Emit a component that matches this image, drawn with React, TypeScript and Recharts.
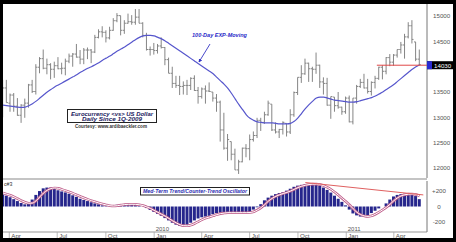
import React from 'react';
import { ComposedChart, Bar, Line, XAxis, YAxis, ReferenceLine } from 'recharts';

// Weekly EUR/USD (x10000), week 0 = week ending 20 Mar 2009
const weekHigh = [
  13740, 13740, 13470, 13480, 13380, 13260, 13370, 13660, 13740, 14050,
  14190, 14340, 14160, 14070, 14100, 14190, 14080, 14160, 14260, 14270,
  14450, 14330, 14370, 14380, 14350, 14630, 14740, 14800, 14720, 14790,
  14960, 15060, 15010, 14920, 15050, 15020, 15140, 15140, 14880, 14670,
  14400, 14470, 14450, 14580, 14390, 14180, 14000, 13820, 13820, 13710,
  13740, 13790, 13830, 13600, 13590, 13630, 13690, 13500, 13460, 13330,
  13090, 12670, 12520, 12380, 12160, 12400, 12470, 12660, 12720, 12990,
  12990, 13110, 13330, 13260, 12900, 12770, 12920, 12880, 13160, 13510,
  13790, 14030, 14160, 14080, 14000, 14280, 14040, 13790, 13780, 13410,
  13400, 13500, 13210, 13410, 13430, 13380, 13640, 13760, 13860, 13760,
  13710, 13820, 14000, 14030, 14190, 14250, 14250, 14340, 14490, 14650,
  14880, 14920, 14490, 14340,
];
const weekLow = [
  13000, 13290, 13110, 13110, 13030, 12890, 12990, 13190, 13480, 13450,
  13870, 13950, 13850, 13750, 13780, 13950, 13850, 13830, 14070, 14000,
  14180, 14050, 14050, 14150, 14070, 14270, 14560, 14580, 14480, 14540,
  14710, 14880, 14620, 14650, 14850, 14830, 14830, 14860, 14580, 14320,
  14220, 14240, 14260, 14360, 14030, 13870, 13580, 13580, 13440, 13450,
  13440, 13540, 13520, 13270, 13370, 13270, 13500, 13310, 13110, 12520,
  12360, 12140, 12150, 11960, 11880, 12110, 12210, 12150, 12520, 12590,
  12730, 12870, 13030, 12730, 12680, 12590, 12660, 12620, 12670, 13010,
  13440, 13680, 13840, 13700, 13700, 13860, 13580, 13450, 13230, 12970,
  13110, 13170, 13050, 13070, 12900, 12860, 13270, 13580, 13570, 13470,
  13430, 13570, 13740, 13750, 13850, 14010, 14020, 14180, 14260, 14160,
  14560, 14460, 14110, 14030,
];
const weekClose = [
  13580, 13280, 13440, 13220, 13040, 13240, 13280, 13640, 13510, 13990,
  14160, 13970, 14040, 13950, 14020, 13960, 13970, 14110, 14210, 14250,
  14190, 14150, 14330, 14330, 14290, 14580, 14690, 14680, 14570, 14720,
  14910, 15010, 14720, 14860, 14890, 14880, 14980, 14860, 14620, 14340,
  14340, 14320, 14410, 14380, 14140, 13870, 13670, 13630, 13610, 13630,
  13630, 13770, 13530, 13410, 13560, 13520, 13510, 13380, 13300, 12750,
  12390, 12560, 12270, 11960, 12120, 12390, 12380, 12560, 12640, 12940,
  12900, 13050, 13280, 12750, 12710, 12760, 12900, 12710, 13050, 13490,
  13790, 13860, 14070, 13960, 13950, 14030, 13700, 13670, 13240, 13410,
  13230, 13200, 13110, 13380, 12910, 13380, 13610, 13690, 13580, 13510,
  13690, 13770, 13990, 13910, 14180, 14090, 14230, 14340, 14430, 14590,
  14810, 14540, 14150, 14040,
];
const firstOpen = 13050;

const ema100 = [
  13240, 13230, 13220, 13210, 13200, 13195, 13200, 13230, 13270, 13320,
  13380, 13440, 13500, 13550, 13600, 13640, 13680, 13720, 13760, 13800,
  13840, 13890, 13930, 13970, 14000, 14040, 14080, 14130, 14170, 14210,
  14260, 14310, 14350, 14390, 14440, 14490, 14540, 14580, 14610, 14620,
  14620, 14610, 14580, 14550, 14510, 14460, 14410, 14360, 14310, 14260,
  14210, 14160, 14110, 14060, 14010, 13960, 13910, 13860, 13790, 13720,
  13650, 13570, 13470, 13360, 13250, 13150, 13050, 12980, 12940, 12910,
  12900, 12890, 12890, 12890, 12880, 12870, 12870, 12870, 12880, 12920,
  12990, 13080, 13170, 13250, 13320, 13380, 13400, 13400, 13380, 13360,
  13340, 13330, 13320, 13310, 13300, 13300, 13310, 13330, 13350, 13370,
  13390, 13420, 13460, 13500, 13550, 13600, 13650, 13710, 13770, 13830,
  13890, 13950, 14000, 14040,
];

const oscHist = [
  155, 140, 120, 95, 70, 45, 28, 40, 90, 150,
  200, 235, 245, 245, 230, 210, 195, 182, 165, 145,
  125, 100, 85, 70, 55, 40, 28, 15, 5, 0,
  10, 22, 28, 30, 30, 28, 25, 15, 0, -20,
  -45, -70, -95, -120, -150, -180, -210, -235, -250, -250,
  -235, -210, -180, -155, -140, -130, -120, -100, -85, -80,
  -78, -78, -80, -80, -80, -80, -78, -70, -40, -10,
  30, 80, 115, 140, 160, 175, 185, 205, 230, 255,
  270, 280, 288, 292, 290, 285, 270, 245, 215, 180,
  140, 100, 60, 15, -40, -90, -115, -130, -130, -115,
  -85, -55, -25, 0, 40, 90, 130, 150, 160, 165,
  165, 160, 135, 95,
];
const oscSignal = [
  175, 160, 145, 125, 100, 75, 55, 42, 45, 75,
  125, 175, 210, 232, 240, 235, 220, 205, 188, 170,
  150, 130, 110, 92, 75, 60, 45, 32, 20, 10,
  6, 10, 18, 25, 28, 29, 28, 22, 12, -5,
  -25, -50, -75, -100, -125, -155, -185, -212, -235, -248,
  -250, -240, -220, -195, -170, -150, -135, -120, -105, -92,
  -85, -80, -80, -80, -80, -80, -80, -78, -68, -45,
  -15, 25, 70, 105, 132, 152, 168, 182, 200, 222,
  245, 262, 275, 284, 289, 290, 284, 270, 248, 220,
  185, 145, 105, 65, 20, -30, -75, -105, -122, -128,
  -120, -100, -72, -42, -10, 30, 75, 112, 138, 152,
  160, 162, 155, 135,
];

const monthTickWeeks = [1.7, 14.7, 27.9, 41.0, 53.9, 66.9, 80.0, 93.1, 106.0];
const monthTickLabels = ['Apr', 'Jul', 'Oct', 'Jan', 'Apr', 'Jul', 'Oct', 'Jan', 'Apr'];
const yearTickLabels = ['', '', '', '2010', '', '', '', '2011', ''];
const priceTicks = [12000, 12500, 13000, 13500, 14030, 14500, 15000];
const lastPrice = 14030;
const oscTicks = [-200, 0, 200];
const oscTickLabels = ['-200', '0', '+200'];
const supportLevel = 14030;
const supportStartWeek = 101.4;
const trendStartWeek = 82;
const trendStartValue = 310;
const trendEndWeek = 114;
const trendEndValue = 150;

const WEEK_DOMAIN: [number, number] = [0, 115];
const FONT = '"Liberation Sans", Arial, sans-serif';

const rows = weekHigh.map((h, i) => ({
  w: i,
  high: h,
  low: weekLow[i],
  close: weekClose[i],
  open: i === 0 ? firstOpen : weekClose[i - 1],
  range: [weekLow[i], h],
  ema: ema100[i],
  osc: oscHist[i],
  sig: oscSignal[i],
}));

const OhlcBar = (props: any) => {
  const { x, y, width, height, payload } = props;
  if (x == null || y == null || !payload) return null;
  const top = Math.min(y, y + height);
  const h = Math.abs(height);
  const cx = x + width / 2;
  const span = payload.high - payload.low || 1;
  const clamp = (v: number) => Math.max(payload.low, Math.min(payload.high, v));
  const yOf = (v: number) => top + ((payload.high - clamp(v)) / span) * h;
  return (
    <g stroke="#858585" strokeWidth={1}>
      <line x1={cx} x2={cx} y1={top} y2={top + h} />
      <line x1={cx - 1.6} x2={cx} y1={yOf(payload.open)} y2={yOf(payload.open)} />
      <line x1={cx} x2={cx + 1.6} y1={yOf(payload.close)} y2={yOf(payload.close)} />
    </g>
  );
};

const PriceTick = (props: any) => {
  const { x, y, payload } = props;
  const v = payload.value;
  if (v === lastPrice) {
    return (
      <g>
        <rect x={x} y={y - 4} width={26} height={8} fill="#000" />
        <rect x={x} y={y - 4} width={5} height={8} fill="#2a2ad0" />
        <text x={x + 7} y={y + 2.3} fontSize={6.2} fill="#fff" fontFamily={FONT}>
          {v}
        </text>
      </g>
    );
  }
  return (
    <text x={x + 6} y={y + 2.2} fontSize={6.2} fill="#555" fontFamily={FONT}>
      {v}
    </text>
  );
};

const OscTick = (props: any) => {
  const { x, y, payload } = props;
  const idx = oscTicks.indexOf(payload.value);
  return (
    <text x={x + 12} y={y + 2.2} fontSize={6.2} fill="#555" fontFamily={FONT} textAnchor="middle">
      {oscTickLabels[idx]}
    </text>
  );
};

const DateTick = (props: any) => {
  const { x, y, payload } = props;
  const idx = monthTickWeeks.indexOf(payload.value);
  return (
    <g>
      <line x1={x} x2={x} y1={y} y2={y + 6} stroke="#aaa" strokeWidth={0.8} />
      <text x={x + 2} y={y + 5.6} fontSize={6.2} fill="#555" fontFamily={FONT}>
        {monthTickLabels[idx]}
      </text>
      {yearTickLabels[idx] ? (
        <text x={x + 1.5} y={y - 1.2} fontSize={6} fill="#555" fontFamily={FONT}>
          {yearTickLabels[idx]}
        </text>
      ) : null}
    </g>
  );
};

export default function App() {
  return (
    <div style={{ position: 'absolute', left: 0, top: 0, width: 456, height: 242, background: '#000', overflow: 'hidden' }}>
      <div style={{ position: 'absolute', left: 3, top: 4, width: 450, height: 234, background: '#fff' }} />
      <div style={{ position: 'absolute', left: 3, top: 4 }}>
        <ComposedChart width={450} height={174} data={rows} margin={{ top: 0, right: 0, bottom: 0, left: 0 }}>
          <XAxis type="number" dataKey="w" domain={WEEK_DOMAIN} hide allowDataOverflow />
          <YAxis
            orientation="right"
            width={26}
            domain={[11800, 15240]}
            allowDataOverflow
            ticks={priceTicks}
            interval={0}
            tick={<PriceTick />}
            tickLine={false}
            tickSize={0}
            tickMargin={0}
            axisLine={{ stroke: '#777' }}
          />
          <Bar dataKey="range" barSize={1} shape={OhlcBar} isAnimationActive={false} />
          <Line dataKey="ema" type="monotone" stroke="#5656cc" strokeWidth={1.2} dot={false} isAnimationActive={false} />
          <ReferenceLine
            segment={[{ x: supportStartWeek, y: supportLevel }, { x: WEEK_DOMAIN[1], y: supportLevel }]}
            stroke="#e04848"
            strokeWidth={1}
          />
        </ComposedChart>
      </div>
      <div style={{ position: 'absolute', left: 3, top: 178, width: 424, height: 2, background: '#c4c4c4' }} />
      <div style={{ position: 'absolute', left: 3, top: 180 }}>
        <ComposedChart width={450} height={58} data={rows} margin={{ top: 1, right: 0, bottom: 0, left: 0 }}>
          <XAxis
            type="number"
            dataKey="w"
            domain={WEEK_DOMAIN}
            allowDataOverflow
            ticks={monthTickWeeks}
            interval={0}
            tick={<DateTick />}
            tickLine={false}
            tickSize={0}
            tickMargin={0}
            height={6}
            axisLine={{ stroke: '#999' }}
          />
          <YAxis
            orientation="right"
            width={26}
            domain={[-330, 330]}
            allowDataOverflow
            ticks={oscTicks}
            interval={0}
            tick={<OscTick />}
            tickLine={false}
            tickSize={0}
            tickMargin={0}
            axisLine={{ stroke: '#777' }}
          />
          <Bar dataKey="osc" fill="#26268c" barSize={3} isAnimationActive={false} />
          <Line dataKey="sig" type="monotone" stroke="#c0608c" strokeWidth={2.6} dot={false} isAnimationActive={false} />
          <Line dataKey="sig" type="monotone" stroke="#ffffff" strokeWidth={1} dot={false} isAnimationActive={false} />
          <ReferenceLine
            segment={[{ x: trendStartWeek, y: trendStartValue }, { x: trendEndWeek, y: trendEndValue }]}
            stroke="#e06060"
            strokeWidth={1}
          />
        </ComposedChart>
      </div>
      <svg width={456} height={242} style={{ position: 'absolute', left: 0, top: 0, pointerEvents: 'none' }}>
        <defs>
          <marker id="arr" viewBox="0 0 6 6" refX="5" refY="3" markerWidth="4" markerHeight="4" orient="auto">
            <path d="M0,0 L6,3 L0,6 z" fill="#3434c4" />
          </marker>
        </defs>
        <text x={192} y={37} fontSize={5.6} fontWeight="bold" fontStyle="italic" fill="#2a2ac8" fontFamily={FONT} textLength={55} lengthAdjust="spacingAndGlyphs">
          100-Day EXP-Moving
        </text>
        <line x1={210} y1={44} x2={199} y2={62} stroke="#3434c4" strokeWidth={0.9} markerEnd="url(#arr)" />
        <rect x={67.5} y={109.5} width={89} height={13} fill="#fff" stroke="#222" strokeWidth={1} />
        <text x={112} y={116} fontSize={5.6} fontWeight="bold" fontStyle="italic" fill="#1a1a60" fontFamily={FONT} textAnchor="middle" textLength={82} lengthAdjust="spacingAndGlyphs">
          Eurocurrency &lt;vs&gt; US Dollar
        </text>
        <text x={112} y={121.3} fontSize={5.6} fontWeight="bold" fontStyle="italic" fill="#1a1a60" fontFamily={FONT} textAnchor="middle" textLength={60} lengthAdjust="spacingAndGlyphs">
          Daily Since 1Q-2009
        </text>
        <text x={111} y={128} fontSize={4.5} fontWeight="bold" fill="#333" fontFamily={FONT} textAnchor="middle" textLength={72} lengthAdjust="spacingAndGlyphs">
          Courtesy: www.ardibaeckler.com
        </text>
        <rect x={140.5} y={187.5} width={109} height={7.5} fill="#fff" stroke="#222" strokeWidth={1} />
        <text x={195} y={193.3} fontSize={5} fontWeight="bold" fontStyle="italic" fill="#2a2ab0" fontFamily={FONT} textAnchor="middle" textLength={104} lengthAdjust="spacingAndGlyphs">
          Med-Term Trend/Counter-Trend Oscillator
        </text>
        <text x={4} y={185.5} fontSize={5.2} fill="#333" fontFamily={FONT}>
          c#3
        </text>
      </svg>
    </div>
  );
}
